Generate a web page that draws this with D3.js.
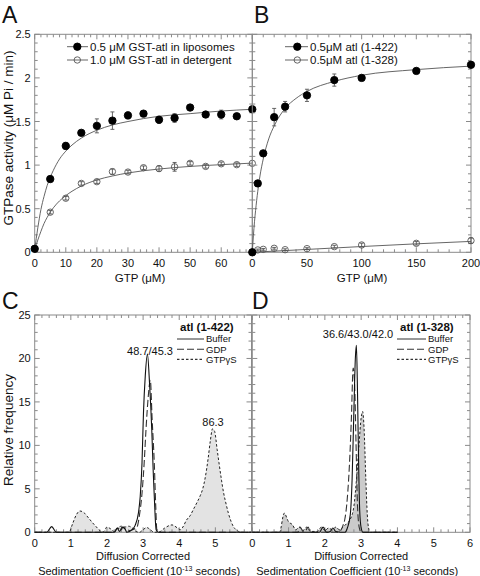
<!DOCTYPE html>
<html><head><meta charset="utf-8">
<script src="https://cdn.jsdelivr.net/npm/d3@7"></script>
<style>body{margin:0;background:#fff} text{font-family:"Liberation Sans",Arial,sans-serif;fill:#111}</style>
</head><body><svg id="c" width="480" height="576"></svg>
<script>
// ---------- Panel A data ----------
const gtpA = [0,5,10,15,20,25,30,35,40,45,50,55,60,65,70];
const liposomes = [0.04,0.84,1.22,1.37,1.45,1.51,1.57,1.59,1.52,1.54,1.66,1.58,1.58,1.56,1.64];
const liposomesErr = [0.01,0.03,0.04,0.03,0.08,0.10,0.04,0.03,0.04,0.05,0.02,0.03,0.05,0.02,0];
const detergent = [0.04,0.46,0.62,0.79,0.81,0.925,0.92,0.97,0.96,0.98,1.02,0.985,1.015,1.005,1.02];
const detergentErr = [0.01,0.02,0.02,0.02,0.02,0.03,0.02,0.02,0.03,0.05,0.02,0.02,0.02,0.02,0];
const fitXA = [0,1,2,3,4,5,6,8,10,12,15,20,25,30,40,50,60,70];
const fitLiposomes = [0.03,0.28,0.49,0.64,0.765,0.86,0.94,1.07,1.16,1.23,1.31,1.40,1.46,1.50,1.56,1.59,1.62,1.64];
const fitDetergent = [0.03,0.14,0.24,0.33,0.40,0.46,0.51,0.59,0.65,0.70,0.76,0.83,0.875,0.91,0.955,0.985,1.005,1.023];
const yTicksAB = [0,0.5,1,1.5,2,2.5];
const xTicksA = [0,10,20,30,40,50,60];
const legendA = ["0.5 \u03bcM GST-atl in liposomes","1.0 \u03bcM GST-atl in detergent"];

// ---------- Panel B data ----------
const gtpB = [0,5,10,20,30,50,75,100,150,200];
const atl422 = [0,0.79,1.135,1.55,1.67,1.80,1.975,2.0,2.08,2.15];
const atl422Err = [0,0.03,0.03,0.1,0.06,0.07,0.07,0.03,0.02,0.03];
const atl328 = [0,0.027,0.034,0.046,0.03,0.042,0.065,0.084,0.103,0.134];
const atl328Err = [0,0.01,0.01,0.01,0.01,0.01,0.015,0.02,0.02,0.03];
const fitXB = [0,1,2,3,5,7,10,15,20,30,40,50,75,100,150,200];
const fit422 = [0,0.19,0.35,0.48,0.70,0.875,1.07,1.30,1.45,1.65,1.765,1.845,1.96,2.03,2.095,2.135];
const fitXB328 = [0,50,100,150,200];
const fit328 = [0,0.033,0.066,0.097,0.125];
const xTicksB = [0,50,100,150,200];
const legendB = ["0.5\u03bcM atl (1-422)","0.5\u03bcM atl (1-328)"];

// ---------- Panel C data ----------
const cBufferX = [0,0.33,0.47,0.6,2.2,2.28,2.35,2.42,2.5,2.55,2.7,2.78,2.87,2.92,2.97,3.01,3.06,3.12,3.18,3.24,3.28,3.31,3.36,3.42,6.0];
const cBufferY = [0,0,0.65,0,0,0.5,0.1,0.6,0.4,0,0.3,0.8,2.2,4.1,8,13.7,18,20.5,17,11.8,7,4.1,0.3,0,0];
const cGdpX = [0,2.2,2.3,2.38,2.45,2.52,2.6,2.7,2.83,2.9,2.97,3.03,3.08,3.14,3.2,3.25,3.31,3.35,3.38,3.45,6.0];
const cGdpY = [0,0,0.5,0.2,0.6,0.3,0.2,0.3,0.6,2,4.5,8,11.8,15.5,17.5,13,7.9,3,0.3,0,0];
const cGtpX = [0,0.95,1.05,1.15,1.25,1.35,1.5,1.6,1.7,1.8,1.9,2.0,2.1,2.2,2.3,2.4,2.5,2.6,2.7,2.8,2.9,3.0,3.1,3.2,3.3,3.45,3.6,3.8,3.95,4.03,4.1,4.2,4.3,4.4,4.5,4.58,4.65,4.72,4.8,4.86,4.92,4.98,5.05,5.1,5.17,5.23,5.3,5.36,5.43,5.5,5.57,5.64,5.75,6.0];
const cGtpY = [0,0,1.0,2.0,2.45,2.3,1.6,1.1,0.65,0.2,0.05,0.6,0.4,0.1,0.5,0.7,0.6,0.7,0.5,0.1,0,0.3,0.55,0.3,0,0.05,0.5,0.85,0.5,0.3,0.6,1.4,1.9,2.7,3.5,4.2,5.0,6.3,8.5,10.5,11.9,11.6,9.5,8.0,6.0,4.5,3.2,2.2,1.3,0.65,0.3,0.1,0,0];

// ---------- Panel D data ----------
const dBufferX = [0,1.85,1.95,2.05,2.15,2.22,2.3,2.55,2.62,2.7,2.75,2.8,2.84,2.87,2.9,2.93,2.96,3.0,3.05,4.0];
const dBufferY = [0,0,0.6,0,0.1,0.5,0.1,0,0.5,2,6,14,20,21.5,16,8,2.5,0.5,0,0];
const dGdpX = [0,1.25,1.32,1.4,1.47,1.54,1.6,2.35,2.45,2.5,2.55,2.62,2.68,2.73,2.78,2.82,2.86,2.9,2.95,3.0,4.0];
const dGdpY = [0,0,0.6,0.1,0.2,0.6,0,0,0.3,0.8,1.5,4,8,13,18.9,17,10,3,0.5,0,0];
const dGtpX = [0,0.75,0.88,1.0,1.1,1.2,1.3,1.4,1.5,1.6,1.8,1.9,2.0,2.1,2.2,2.3,2.4,2.5,2.6,2.7,2.8,2.87,2.94,3.0,3.04,3.08,3.13,3.17,3.2,3.25,4.0];
const dGtpY = [0,0,2.2,1.2,0.9,0.3,0.6,0.2,0.6,0.1,0.1,0.6,0.2,0.5,0.3,0.6,0.3,0.6,1.0,1.5,3.0,6,10,13.2,13.9,12,6,2,0.6,0,0];

const yTicksCD = [0,5,10,15,20,25];
const xTicksC = [0,1,2,3,4,5];
const xTicksD = [0,1,2,3,4,5,6];
const legendCD = ["Buffer","GDP","GTP\u03b3S"];

// ---------- drawing ----------
const svg = d3.select("#c");
const axisColor = "#8a8a8a";
const fmt = d3.format("~g");

function frame(g, x, y, xMinor, yMinor, xMajor, yMajor, xLabels, yLabels) {
  const [xl, xr] = x.range(), [yb, yt] = y.range();
  const tk = g.append("g").attr("stroke", axisColor).attr("stroke-width", 1);
  const xd = x.domain(), yd = y.domain();
  d3.range(xd[0], xd[1] + 1e-9, xMinor).forEach(v => {
    const major = Math.abs(v / xMajor - Math.round(v / xMajor)) < 1e-6;
    const L = major ? 5 : 3;
    tk.append("line").attr("x1", x(v)).attr("x2", x(v)).attr("y1", yb).attr("y2", yb - L);
    tk.append("line").attr("x1", x(v)).attr("x2", x(v)).attr("y1", yt).attr("y2", yt + L);
  });
  d3.range(yd[0], yd[1] + 1e-9, yMinor).forEach(v => {
    const major = Math.abs(v / yMajor - Math.round(v / yMajor)) < 1e-6;
    const L = major ? 5 : 3;
    tk.append("line").attr("y1", y(v)).attr("y2", y(v)).attr("x1", xl).attr("x2", xl + L);
    tk.append("line").attr("y1", y(v)).attr("y2", y(v)).attr("x1", xr).attr("x2", xr - L);
  });
  g.append("rect").attr("x", xl).attr("y", yt).attr("width", xr - xl).attr("height", yb - yt)
    .attr("fill", "none").attr("stroke", axisColor).attr("stroke-width", 1);
  g.selectAll(null).data(xLabels).enter().append("text")
    .attr("x", d => x(d)).attr("y", yb + 15).attr("text-anchor", "middle")
    .attr("font-size", 11).text(fmt);
  if (yLabels) g.selectAll(null).data(yLabels).enter().append("text")
    .attr("x", xl - 4).attr("y", d => y(d) + 4).attr("text-anchor", "end")
    .attr("font-size", 11).text(fmt);
}

function pointsWithErr(g, x, y, xs, ys, es, filled) {
  const eg = g.append("g").attr("stroke", "#555").attr("stroke-width", 0.9);
  xs.forEach((xv, i) => {
    if (!es[i]) return;
    const px = x(xv), a = y(ys[i] - es[i]), b = y(ys[i] + es[i]);
    eg.append("line").attr("x1", px).attr("x2", px).attr("y1", a).attr("y2", b);
    eg.append("line").attr("x1", px - 2).attr("x2", px + 2).attr("y1", a).attr("y2", a);
    eg.append("line").attr("x1", px - 2).attr("x2", px + 2).attr("y1", b).attr("y2", b);
  });
  g.selectAll(null).data(xs).enter().append("circle")
    .attr("cx", d => x(d)).attr("cy", (d, i) => y(ys[i]))
    .attr("r", filled ? 3.7 : 3.2)
    .attr("fill", filled ? "#000" : "none")
    .attr("stroke", filled ? "#000" : "#555").attr("stroke-width", 0.9);
}

function fitLine(g, x, y, xs, ys) {
  g.append("path").datum(xs.map((d, i) => [d, ys[i]]))
    .attr("d", d3.line().x(d => x(d[0])).y(d => y(d[1])).curve(d3.curveMonotoneX))
    .attr("fill", "none").attr("stroke", "#555").attr("stroke-width", 0.9);
}

function legendMarkers(g, cx, y0, dy, x1, x2, tx, labels) {
  labels.forEach((t, i) => {
    const yy = y0 + i * dy;
    g.append("line").attr("x1", x1).attr("x2", x2).attr("y1", yy).attr("y2", yy)
      .attr("stroke", "#555").attr("stroke-width", 0.9);
    g.append("circle").attr("cx", cx).attr("cy", yy).attr("r", i === 0 ? 3.7 : 3.2)
      .attr("fill", i === 0 ? "#000" : "none").attr("stroke", i === 0 ? "#000" : "#555").attr("stroke-width", 0.9);
    g.append("text").attr("x", tx).attr("y", yy + 4).attr("font-size", 11.5).text(t);
  });
}

function panelLetter(t, x, y) {
  svg.append("text").attr("x", x).attr("y", y).attr("font-size", 23).text(t);
}

// Panel A
const xA = d3.scaleLinear().domain([0, 70]).range([34.7, 252.3]);
const yA = d3.scaleLinear().domain([0, 2.5]).range([252.3, 34.3]);
const gA = svg.append("g");
frame(gA, xA, yA, 2, 0.1, 10, 0.5, xTicksA, yTicksAB);
fitLine(gA, xA, yA, fitXA, fitLiposomes);
fitLine(gA, xA, yA, fitXA, fitDetergent);
pointsWithErr(gA, xA, yA, gtpA, detergent, detergentErr, false);
pointsWithErr(gA, xA, yA, gtpA, liposomes, liposomesErr, true);
legendMarkers(gA, 77.3, 46.7, 13.3, 67, 88, 90, legendA);
gA.append("text").attr("x", 140).attr("y", 282).attr("text-anchor", "middle").attr("font-size", 11.5).text("GTP (\u03bcM)");

// Panel B
const xB = d3.scaleLinear().domain([0, 200]).range([252.3, 471]);
const yB = d3.scaleLinear().domain([0, 2.5]).range([252.3, 34.3]);
const gB = svg.append("g");
frame(gB, xB, yB, 10, 0.1, 50, 0.5, xTicksB, null);
fitLine(gB, xB, yB, fitXB, fit422);
fitLine(gB, xB, yB, fitXB328, fit328);
pointsWithErr(gB, xB, yB, gtpB, atl328, atl328Err, false);
pointsWithErr(gB, xB, yB, gtpB, atl422, atl422Err, true);
legendMarkers(gB, 297.3, 46.7, 13.3, 285, 308, 310, legendB);
gB.append("text").attr("x", 362).attr("y", 282).attr("text-anchor", "middle").attr("font-size", 11.5).text("GTP (\u03bcM)");

svg.append("text").attr("transform", "translate(13,138) rotate(-90)").attr("text-anchor", "middle")
  .attr("font-size", 13.5).text("GTPase activity (\u03bcM Pi / min)");

// Panels C & D
function sedPanel(xRange, xLabels, series, fillColor, peakLabels, legendTitle, legX, legTextX) {
  const x = d3.scaleLinear().domain([0, 6]).range(xRange);
  const y = d3.scaleLinear().domain([0, 25]).range([532.3, 315]);
  const g = svg.append("g");
  const [buf, gdp, gtp] = series;
  const area = d3.area().x(d => x(d[0])).y0(y(0)).y1(d => y(d[1])).curve(d3.curveMonotoneX);
  const line = d3.line().x(d => x(d[0])).y(d => y(d[1])).curve(d3.curveMonotoneX);
  const gtpPts = gtp[0].map((d, i) => [d, gtp[1][i]]);
  g.append("path").datum(gtpPts).attr("d", area).attr("fill", fillColor);
  frame(g, x, y, 0.2, 1, 1, 5, xLabels, xRange[0] < 100 ? yTicksCD : null);
  g.append("path").datum(gtpPts).attr("d", line).attr("fill", "none")
    .attr("stroke", "#222").attr("stroke-width", 1).attr("stroke-dasharray", "2.5,2");
  g.append("path").datum(gdp[0].map((d, i) => [d, gdp[1][i]])).attr("d", line).attr("fill", "none")
    .attr("stroke", "#333").attr("stroke-width", 1.1).attr("stroke-dasharray", "7,3");
  g.append("path").datum(buf[0].map((d, i) => [d, buf[1][i]])).attr("d", line).attr("fill", "none")
    .attr("stroke", "#111").attr("stroke-width", 1.1);
  peakLabels.forEach(p => g.append("text").attr("x", p[0]).attr("y", p[1]).attr("text-anchor", "middle")
    .attr("font-size", 11).text(p[2]));
  g.append("text").attr("x", legX + 3).attr("y", 330.5).attr("font-size", 11.5).attr("font-weight", "bold").text(legendTitle);
  const dashes = [null, "7,3", "2.5,2"];
  legendCD.forEach((t, i) => {
    const yy = 339 + i * 10.2;
    g.append("line").attr("x1", legX).attr("x2", legTextX - 2).attr("y1", yy).attr("y2", yy)
      .attr("stroke", i === 0 ? "#444" : "#333").attr("stroke-width", 1.1).attr("stroke-dasharray", dashes[i]);
    g.append("text").attr("x", legTextX).attr("y", yy + 3.3).attr("font-size", 9.5).text(t);
  });
  const cx = (xRange[0] + xRange[1]) / 2;
  g.append("text").attr("x", cx).attr("y", 560).attr("text-anchor", "middle").attr("font-size", 11).text("Diffusion Corrected");
  const t2 = g.append("text").attr("x", cx - 4).attr("y", 575).attr("text-anchor", "middle").attr("font-size", 11);
  t2.append("tspan").text("Sedimentation Coefficient (10");
  t2.append("tspan").attr("font-size", 7).attr("dy", -4).text("-13");
  t2.append("tspan").attr("dy", 4).text(" seconds)");
}

sedPanel([34.7, 251.5], xTicksC, [[cBufferX, cBufferY], [cGdpX, cGdpY], [cGtpX, cGtpY]], "#e3e3e3",
  [[150, 355, "48.7/45.3"], [213, 426, "86.3"]], "atl (1-422)", 177, 206);
sedPanel([252.3, 470], xTicksD, [[dBufferX, dBufferY], [dGdpX, dGdpY], [dGtpX, dGtpY]], "#cbcbcb",
  [[358, 338, "36.6/43.0/42.0"]], "atl (1-328)", 397, 428);

svg.append("text").attr("transform", "translate(13,430) rotate(-90)").attr("text-anchor", "middle")
  .attr("font-size", 13.5).text("Relative frequency");

panelLetter("A", 2, 23);
panelLetter("B", 254, 23);
panelLetter("C", 2, 309);
panelLetter("D", 252, 309);
</script></body></html>
